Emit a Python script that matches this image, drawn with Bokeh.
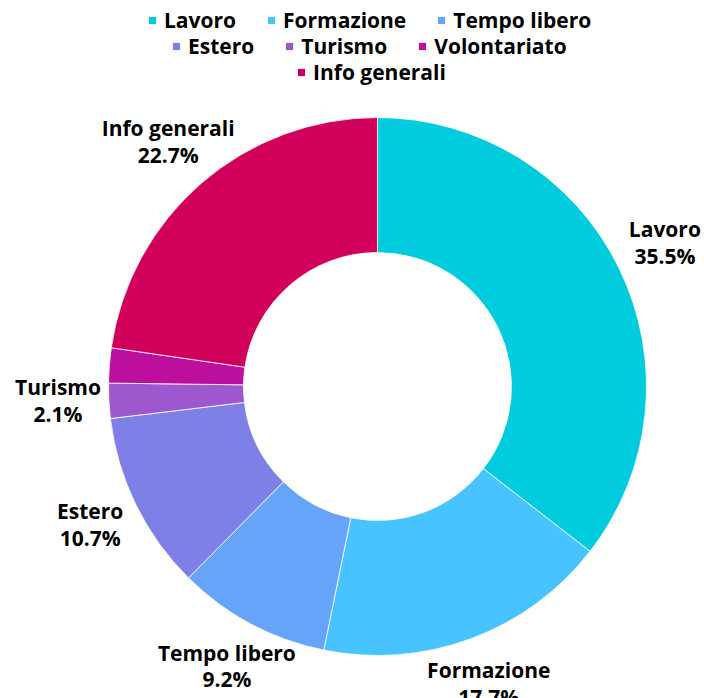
import math
from bokeh.plotting import figure
from bokeh.models import ColumnDataSource, Legend, LegendItem, Range1d
from bokeh.core.properties import value
from bokeh.embed import file_html
from bokeh.resources import INLINE

categories = ["Lavoro", "Formazione", "Tempo libero", "Estero", "Turismo", "Volontariato", "Info generali"]
values = [35.5, 17.7, 9.2, 10.7, 2.1, 2.1, 22.7]
colors = ["#00CCDD", "#47C4FF", "#66A4FA", "#7E80E8", "#9D57CF", "#BC0F9E", "#D1005B"]
show_label = [True, True, True, True, True, False, True]
legend_rows = [[0, 1, 2], [3, 4, 5], [6]]

FONT = "Open Sans"
W, H = 704, 698
R_OUT, R_IN, R_LAB = 269, 134, 320
LEG_X = [143, 167, 292]

total = sum(values)
starts, ends, lx, ly = [], [], [], []
cum = 0.0
for v in values:
    a0 = math.pi / 2 - 2 * math.pi * cum / total
    a1 = math.pi / 2 - 2 * math.pi * (cum + v) / total
    starts.append(a0)
    ends.append(a1)
    mid = (a0 + a1) / 2
    lx.append(R_LAB * math.cos(mid))
    ly.append(R_LAB * math.sin(mid))
    cum += v

src = ColumnDataSource(dict(cat=categories, val=values, color=colors,
                            start=starts, end=ends,
                            x=[0.0] * len(values), y=[0.0] * len(values),
                            nx=[float("nan")] * len(values)))

p = figure(width=W, height=H, output_backend="svg", toolbar_location=None,
           x_range=Range1d(-377, W - 377), y_range=Range1d(386 - H, 386),
           min_border=0, outline_line_color=None)
p.axis.visible = False
p.grid.visible = False
p.background_fill_color = "white"
p.border_fill_color = "white"

p.annular_wedge(x="x", y="y", inner_radius=R_IN, outer_radius=R_OUT,
                start_angle="start", end_angle="end", direction="clock",
                fill_color="color", line_color="white", line_width=0.8, source=src)

lab = ColumnDataSource(dict(
    x=[lx[i] for i in range(len(values)) if show_label[i]],
    y=[ly[i] for i in range(len(values)) if show_label[i]],
    t=[f"{categories[i]}\n{values[i] / total * 100:.1f}%" for i in range(len(values)) if show_label[i]],
))
p.text(x="x", y="y", text="t", source=lab, text_align="center", text_baseline="middle",
       y_offset=-3,
       text_font=value(FONT), text_font_style="bold", text_font_size="21px",
       text_line_height=0.95, text_color="black")

marker = p.scatter(x="nx", y="y", marker="square", size=7, fill_color="color",
                   line_color=None, source=src)

for k, row in enumerate(legend_rows):
    items = [LegendItem(label=categories[i], renderers=[marker], index=i) for i in row]
    leg = Legend(items=items, orientation="horizontal",
                 location=(LEG_X[k], H - 34 - 26 * k),
                 label_text_font=FONT, label_text_font_style="bold",
                 label_text_font_size="21px", label_text_color="black",
                 glyph_width=18, glyph_height=18, label_height=26,
                 label_standoff=3, spacing=26, padding=0, margin=0,
                 border_line_alpha=0, background_fill_alpha=0)
    p.add_layout(leg, "center")

open("out.html", "w").write(file_html(p, INLINE))
